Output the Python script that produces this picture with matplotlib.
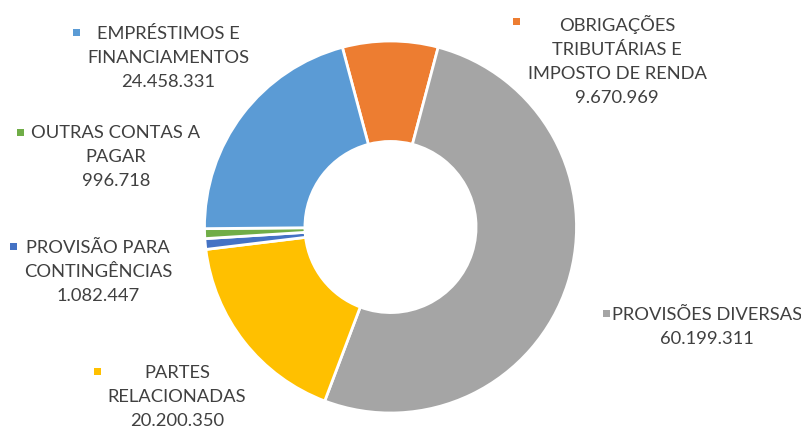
import matplotlib
matplotlib.use("Agg")
import matplotlib.pyplot as plt
from matplotlib.patches import Rectangle

categories = ["OBRIGAÇÕES\nTRIBUTÁRIAS E\nIMPOSTO DE RENDA",
              "PROVISÕES DIVERSAS",
              "PARTES\nRELACIONADAS",
              "PROVISÃO PARA\nCONTINGÊNCIAS",
              "OUTRAS CONTAS A\nPAGAR",
              "EMPRÉSTIMOS E\nFINANCIAMENTOS"]
values = [9670969, 60199311, 20200350, 1082447, 996718, 24458331]
colors = ["#ED7D31", "#A5A5A5", "#FFC000", "#4472C4", "#70AD47", "#5B9BD5"]

W, H = 801, 427
fig = plt.figure(figsize=(W / 100, H / 100), dpi=100)
cx, cy, r = 390.5, 228, 186
ax = fig.add_axes([(cx - r) / W, (H - cy - r) / H, 2 * r / W, 2 * r / H])
ax.pie(values, colors=colors, startangle=105, counterclock=False, radius=1,
       wedgeprops=dict(width=0.54, edgecolor="white", linewidth=2))
ax.set_xlim(-1, 1)
ax.set_ylim(-1, 1)
ax.set_aspect("auto")
ax.axis("off")

# label layout: (text center x, block center y, square x, square y) in pixels
layout = [(617, 60.5, 516, 22),
          (707, 327, 606, 314),
          (177, 397, 97, 372),
          (98, 272, 13, 247),
          (116, 157, 20, 133),
          (168, 58, 76, 33)]

for cat, val, col, (tx, ty, sx, sy) in zip(categories, values, colors, layout):
    txt = cat + "\n" + f"{val:,}".replace(",", ".")
    fig.text(tx / W, 1 - ty / H, txt, ha="center", va="center", multialignment="center",
             fontsize=13.2, color="#404040", family=["Lato", "DejaVu Sans"], linespacing=1.62)
    s = 7
    fig.patches.append(Rectangle(((sx - s / 2) / W, 1 - (sy + s / 2) / H), s / W, s / H,
                                 transform=fig.transFigure, facecolor=col, edgecolor="none"))

fig.savefig("out.png", dpi=100)
